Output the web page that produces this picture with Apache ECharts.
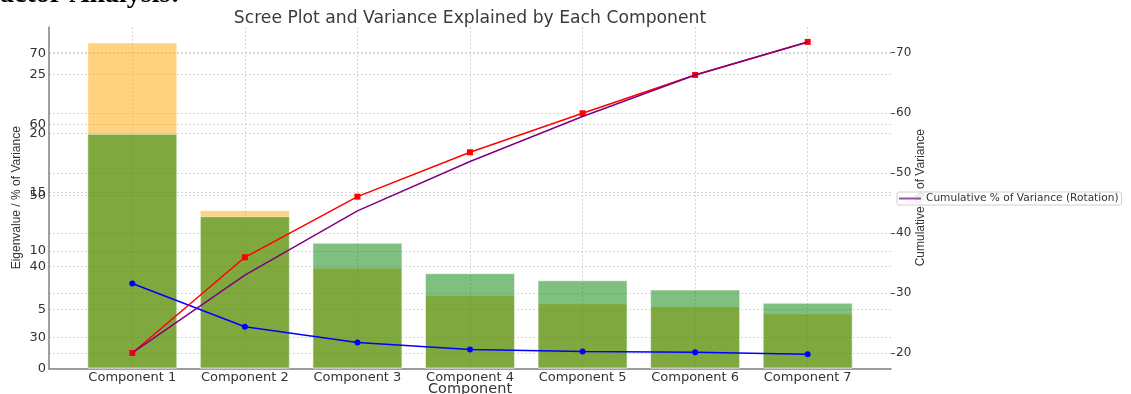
<!DOCTYPE html>
<html><head><meta charset="utf-8">
<script src="https://cdn.jsdelivr.net/npm/echarts@6/dist/echarts.min.js"></script>
<style>html,body{margin:0;padding:0;background:#fff}#c{width:1131px;height:394px}</style>
</head><body><div id="c"></div>
<script>
const categories = ['Component 1','Component 2','Component 3','Component 4','Component 5','Component 6','Component 7'];
const varianceBefore = [27.74, 13.47, 8.57, 6.24, 5.56, 5.30, 4.68];
const varianceRotation = [19.97, 12.96, 10.70, 8.11, 7.51, 6.72, 5.59];
const eigenvalues = [7.23, 3.55, 2.21, 1.62, 1.45, 1.39, 1.22];
const cumulative = [20.05, 35.97, 46.06, 53.44, 59.93, 66.3, 71.8];
const cumulativeRotation = [20.05, 33.0, 43.7, 51.9, 59.4, 66.3, 71.8];
const eigenTicks = [0, 5, 10, 15, 20, 25];
const percentTicks = [30, 40, 50, 60, 70];
const cumulativeTicks = [20, 30, 40, 50, 60, 70];

const FONT = 'DejaVu Sans';
const NAMEFONT = '"Liberation Sans", Arial, sans-serif';
const pos = categories.map((c, i) => i);
const pair = arr => arr.map((v, i) => [pos[i], v]);
const grid = { type: [2, 2], color: '#d6d6d6', width: 1 };

const chart = echarts.init(document.getElementById('c'), null, { renderer: 'canvas' });
chart.setOption({
  animation: false,
  backgroundColor: '#fff',
  title: {
    text: 'Scree Plot and Variance Explained by Each Component',
    left: 465, top: 5, textAlign: 'center',
    textStyle: { fontFamily: FONT, fontSize: 17.2, fontWeight: 'normal', color: '#3a3a3a' }
  },
  graphic: [{
    type: 'text', left: -17, top: -19.5,
    style: { text: 'Factor Analysis:', font: 'bold 28px "Liberation Serif", serif', fill: '#000' }
  }],
  legend: {
    data: [{ name: 'Cumulative % of Variance (Rotation)', icon: 'rect' }],
    left: 897, top: 192, orient: 'vertical',
    itemWidth: 22, itemHeight: 2, padding: [1, 3, 1, 2],
    itemStyle: { color: '#a04ab0' },
    backgroundColor: 'rgba(255,255,255,0.8)', borderColor: '#d0d0d0', borderWidth: 1, borderRadius: 2,
    textStyle: { fontFamily: FONT, fontSize: 10.6, color: '#333' }
  },
  grid: { left: 49, right: 240, top: 27, bottom: 25.5, containLabel: false, outerBoundsMode: 'none' },
  xAxis: {
    type: 'value', min: -0.74, max: 6.74,
    name: 'Component', nameLocation: 'middle', nameGap: 13, nameMoveOverlap: false,
    nameTextStyle: { fontFamily: FONT, fontSize: 14.5, color: '#333' },
    axisLine: { show: true, onZero: false, lineStyle: { color: '#808080', width: 1.5 } },
    axisTick: { show: false, customValues: pos },
    axisLabel: { customValues: pos, margin: 3, fontFamily: FONT, fontSize: 13, color: '#333',
      formatter: v => categories[Math.round(v)] },
    splitLine: { show: true, lineStyle: grid }
  },
  yAxis: [{
    type: 'value', position: 'left', min: 0, max: 29.06,
    name: 'Eigenvalue / % of Variance', nameLocation: 'middle', nameGap: 26, nameRotate: 90, nameMoveOverlap: false,
    nameTextStyle: { fontFamily: NAMEFONT, fontSize: 12, color: '#333' },
    axisLine: { show: true, onZero: false, lineStyle: { color: '#808080', width: 1.5 } },
    axisTick: { show: false, customValues: eigenTicks },
    axisLabel: { customValues: eigenTicks, margin: 3, fontFamily: FONT, fontSize: 13, color: '#333' },
    splitLine: { show: true, lineStyle: grid }
  }, {
    type: 'value', position: 'left', offset: 0, min: 25.67, max: 73.70,
    axisLine: { show: false, onZero: false },
    axisTick: { show: false, customValues: percentTicks },
    axisLabel: { customValues: percentTicks, margin: 3, fontFamily: FONT, fontSize: 13, color: '#333' },
    splitLine: { show: true, lineStyle: grid }
  }, {
    type: 'value', position: 'right', min: 17.47, max: 74.28,
    name: 'Cumulative % of Variance', nameLocation: 'middle', nameGap: 24, nameRotate: 90, nameMoveOverlap: false,
    nameTextStyle: { fontFamily: NAMEFONT, fontSize: 12, color: '#333' },
    axisLine: { show: false, onZero: false },
    axisTick: { show: true, customValues: cumulativeTicks, length: 4, lineStyle: { color: '#555' } },
    axisLabel: { customValues: cumulativeTicks, margin: 5, fontFamily: FONT, fontSize: 12, color: '#333' },
    splitLine: { show: true, lineStyle: grid }
  }],
  series: [{
    name: '% of Variance', type: 'bar', yAxisIndex: 0, data: pair(varianceBefore),
    barWidth: 90, barGap: '-100%', z: 2,
    itemStyle: { color: 'rgba(255,165,0,0.5)', borderColor: 'rgba(255,255,255,0.5)', borderWidth: 1 }
  }, {
    name: '% of Variance (Rotation)', type: 'bar', yAxisIndex: 0, data: pair(varianceRotation),
    barWidth: 90, barGap: '-100%', z: 2,
    itemStyle: { color: 'rgba(0,128,0,0.5)', borderColor: 'rgba(255,255,255,0.5)', borderWidth: 1 }
  }, {
    name: 'Eigenvalue', type: 'line', yAxisIndex: 0, data: pair(eigenvalues), z: 4,
    symbol: 'circle', symbolSize: 6, lineStyle: { color: '#0000ff', width: 1.5 }, itemStyle: { color: '#0000ff' }
  }, {
    name: 'Cumulative % of Variance', type: 'line', yAxisIndex: 2, data: pair(cumulative), z: 4,
    symbol: 'rect', symbolSize: 6, lineStyle: { color: '#ff0000', width: 1.5 }, itemStyle: { color: '#ff0000' }
  }, {
    name: 'Cumulative % of Variance (Rotation)', type: 'line', yAxisIndex: 2, data: pair(cumulativeRotation), z: 5,
    symbol: 'none', lineStyle: { color: '#800080', width: 1.5 }, itemStyle: { color: '#800080' }
  }]
});
</script></body></html>
